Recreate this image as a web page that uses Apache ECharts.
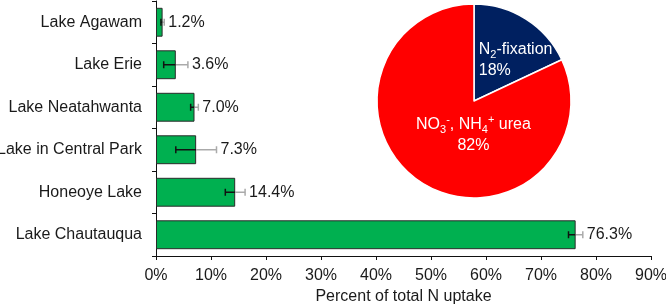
<!DOCTYPE html>
<html><head><meta charset="utf-8">
<script src="https://cdn.jsdelivr.net/npm/echarts@6/dist/echarts.min.js"></script>
<style>html,body{margin:0;padding:0;background:#fff}#c{width:666px;height:304px}</style>
</head><body><div id="c"></div>
<script>
const lakes = ['Lake Agawam','Lake Erie','Lake Neatahwanta','Lake in Central Park','Honeoye Lake','Lake Chautauqua'];
const uptake = [1.2, 3.6, 7.0, 7.3, 14.4, 76.3];
const uptakeErr = [0.3, 2.2, 0.7, 3.7, 1.8, 1.3];
const xTickValues = [0,10,20,30,40,50,60,70,80,90];
const pieNames = ['N2-fixation', 'NO3-, NH4+ urea'];
const pieValues = [18, 82];
const pieLabels = [
  '{l|N}{lsub|2}{l|-fixation}\n{l|18%}',
  '{t|NO}{sub|3}{sup|-}{t|, NH}{sub|4}{sup|+}{t| urea}\n{t|82%}'
];

const FONT = '"Liberation Sans", Arial, sans-serif';
const TXT = '#1a1a1a';
const chart = echarts.init(document.getElementById('c'), null, {renderer:'canvas'});
const rich = {
  t:{fontSize:16, color:'#fff', fontFamily:FONT, lineHeight:21},
  sub:{fontSize:11, color:'#fff', fontFamily:FONT, verticalAlign:'bottom', lineHeight:11},
  sup:{fontSize:11, color:'#fff', fontFamily:FONT, verticalAlign:'top', lineHeight:11},
  l:{fontSize:16, color:'#fff', fontFamily:FONT, lineHeight:21, align:'left'},
  lsub:{fontSize:11, color:'#fff', fontFamily:FONT, verticalAlign:'bottom', lineHeight:11, align:'left'}
};
chart.setOption({
  animation:false,
  textStyle:{fontFamily:FONT},
  grid:{left:156, right:15, top:1, bottom:48, containLabel:false, outerBoundsMode:'none'},
  xAxis:{
    type:'value', min:xTickValues[0], max:xTickValues[xTickValues.length-1], interval:10,
    splitLine:{show:false},
    axisLine:{show:true, lineStyle:{color:'#111', width:1}},
    axisTick:{show:true, length:4, lineStyle:{color:'#111'}},
    axisLabel:{formatter:'{value}%', fontSize:16, color:TXT, margin:12, fontFamily:FONT},
    name:'Percent of total N uptake', nameLocation:'middle', nameGap:33,
    nameTextStyle:{fontSize:16, color:TXT, fontFamily:FONT}
  },
  yAxis:{
    type:'category', data:lakes, inverse:true,
    axisLine:{show:true, lineStyle:{color:'#111', width:1}},
    axisTick:{show:true, length:4, lineStyle:{color:'#111'}},
    axisLabel:{fontSize:16, color:TXT, margin:14, fontFamily:FONT}
  },
  series:[
    {
      type:'bar', data:uptake, barWidth:'68%',
      itemStyle:{color:'#00B050', borderColor:'#2b2b2b', borderWidth:1}
    },
    {
      type:'custom', z:5,
      encode:{x:0, y:1},
      data: uptake.map((v,i)=>[v, i, uptakeErr[i]]),
      renderItem:function(params, api){
        const v = api.value(0), c = api.value(1), e = api.value(2);
        const mid = api.coord([v, c]), lo = api.coord([v-e, c]), hi = api.coord([v+e, c]);
        const h = 3.5;
        const dark = {stroke:'#111', lineWidth:1.5};
        const gray = {stroke:'#aaa', lineWidth:1.5};
        return {type:'group', children:[
          {type:'line', shape:{x1:lo[0], y1:lo[1], x2:mid[0], y2:mid[1]}, style:dark},
          {type:'line', shape:{x1:lo[0], y1:lo[1]-h, x2:lo[0], y2:lo[1]+h}, style:dark},
          {type:'line', shape:{x1:mid[0], y1:mid[1], x2:hi[0], y2:hi[1]}, style:gray},
          {type:'line', shape:{x1:hi[0], y1:hi[1]-h, x2:hi[0], y2:hi[1]+h}, style:gray},
          {type:'text', x:hi[0]+4, y:hi[1], style:{text:v.toFixed(1)+'%', fill:TXT, font:'16px '+FONT, textAlign:'left', textVerticalAlign:'middle'}}
        ]};
      }
    },
    {
      type:'pie', center:[474, 101], radius:97, startAngle:90, clockwise:true,
      data: pieValues.map((v,i)=>({
        name:pieNames[i], value:v,
        itemStyle:{color: i===0 ? '#002060' : '#FF0000'},
        label:{formatter:pieLabels[i]}
      })),
      itemStyle:{borderColor:'#fff', borderWidth:1.5},
      label:{show:true, position:'inside', rich:rich},
      labelLine:{show:false},
      labelLayout:function(p){
        return p.dataIndex===0 ? {dx:14, dy:3} : {dx:27, dy:-9};
      }
    }
  ]
});
</script></body></html>
